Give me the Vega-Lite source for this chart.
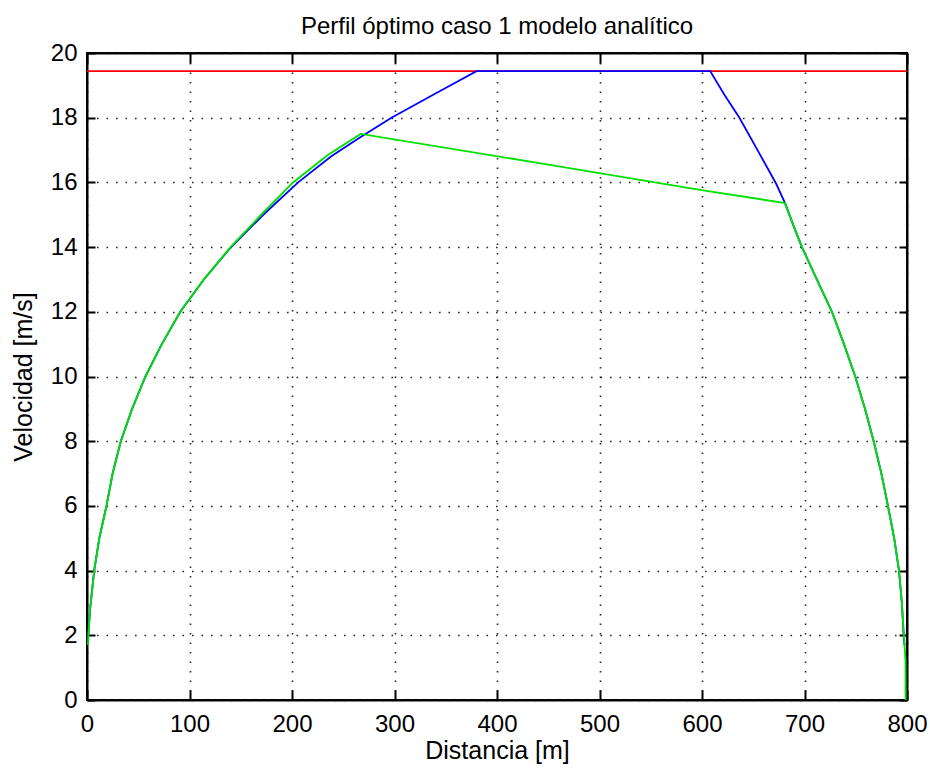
{
  "$schema": "https://vega.github.io/schema/vega-lite/v6.json",
  "autosize": {"type": "none"},
  "width": 820,
  "height": 647,
  "padding": {"left": 87, "top": 53, "right": 23, "bottom": 69},
  "background": "#ffffff",
  "config": {
    "view": {"stroke": "#000000", "strokeWidth": 2},
    "font": "Liberation Sans",
    "axis": {
      "labelFont": "Liberation Sans",
      "labelFontSize": 24,
      "labelColor": "#000000",
      "titleFont": "Liberation Sans",
      "titleFontSize": 25,
      "titleFontWeight": "normal",
      "titleColor": "#000000",
      "domainColor": "#000000",
      "domainWidth": 2,
      "tickColor": "#000000",
      "tickWidth": 2
    }
  },
  "title": {
    "text": "Perfil óptimo caso 1 modelo analítico",
    "font": "Liberation Sans",
    "fontSize": 24,
    "fontWeight": "normal",
    "color": "#000000",
    "baseline": "alphabetic",
    "offset": -17
  },
  "data": {
    "values": [
      {"s": "red", "i": 0, "x": 0, "v": 19.44},
      {"s": "red", "i": 1, "x": 800, "v": 19.44},

      {"s": "blue", "i": 0, "x": 1, "v": 1.7},
      {"s": "blue", "i": 1, "x": 1.3, "v": 2},
      {"s": "blue", "i": 2, "x": 3, "v": 2.8},
      {"s": "blue", "i": 3, "x": 7, "v": 4},
      {"s": "blue", "i": 4, "x": 12, "v": 5},
      {"s": "blue", "i": 5, "x": 19, "v": 6},
      {"s": "blue", "i": 6, "x": 25, "v": 7},
      {"s": "blue", "i": 7, "x": 33, "v": 8},
      {"s": "blue", "i": 8, "x": 44, "v": 9},
      {"s": "blue", "i": 9, "x": 57, "v": 10},
      {"s": "blue", "i": 10, "x": 73, "v": 11},
      {"s": "blue", "i": 11, "x": 91, "v": 12},
      {"s": "blue", "i": 12, "x": 114, "v": 13},
      {"s": "blue", "i": 13, "x": 140, "v": 13.98},
      {"s": "blue", "i": 14, "x": 172, "v": 15.0},
      {"s": "blue", "i": 15, "x": 206, "v": 16},
      {"s": "blue", "i": 16, "x": 238, "v": 16.8},
      {"s": "blue", "i": 17, "x": 267, "v": 17.4},
      {"s": "blue", "i": 18, "x": 297, "v": 18},
      {"s": "blue", "i": 19, "x": 340, "v": 18.75},
      {"s": "blue", "i": 20, "x": 380, "v": 19.44},
      {"s": "blue", "i": 21, "x": 608, "v": 19.44},
      {"s": "blue", "i": 22, "x": 622, "v": 18.7},
      {"s": "blue", "i": 23, "x": 636.5, "v": 18},
      {"s": "blue", "i": 24, "x": 655, "v": 16.95},
      {"s": "blue", "i": 25, "x": 672.5, "v": 15.95},
      {"s": "blue", "i": 26, "x": 681, "v": 15.36},
      {"s": "blue", "i": 27, "x": 690, "v": 14.6},
      {"s": "blue", "i": 28, "x": 697.5, "v": 14},
      {"s": "blue", "i": 29, "x": 712, "v": 13},
      {"s": "blue", "i": 30, "x": 726.8, "v": 12},
      {"s": "blue", "i": 31, "x": 738.5, "v": 11},
      {"s": "blue", "i": 32, "x": 749.5, "v": 10},
      {"s": "blue", "i": 33, "x": 759, "v": 9},
      {"s": "blue", "i": 34, "x": 767.5, "v": 8},
      {"s": "blue", "i": 35, "x": 775, "v": 7},
      {"s": "blue", "i": 36, "x": 781.4, "v": 6},
      {"s": "blue", "i": 37, "x": 787.5, "v": 5},
      {"s": "blue", "i": 38, "x": 792.2, "v": 4},
      {"s": "blue", "i": 39, "x": 795, "v": 3},
      {"s": "blue", "i": 40, "x": 796.7, "v": 2},
      {"s": "blue", "i": 41, "x": 797.5, "v": 1.7},

      {"s": "green", "i": 0, "x": 1, "v": 1.7},
      {"s": "green", "i": 1, "x": 1.3, "v": 2},
      {"s": "green", "i": 2, "x": 3, "v": 2.8},
      {"s": "green", "i": 3, "x": 7, "v": 4},
      {"s": "green", "i": 4, "x": 12, "v": 5},
      {"s": "green", "i": 5, "x": 19, "v": 6},
      {"s": "green", "i": 6, "x": 25, "v": 7},
      {"s": "green", "i": 7, "x": 33, "v": 8},
      {"s": "green", "i": 8, "x": 44, "v": 9},
      {"s": "green", "i": 9, "x": 57, "v": 10},
      {"s": "green", "i": 10, "x": 73, "v": 11},
      {"s": "green", "i": 11, "x": 91, "v": 12},
      {"s": "green", "i": 12, "x": 114, "v": 13},
      {"s": "green", "i": 13, "x": 140, "v": 14},
      {"s": "green", "i": 14, "x": 170, "v": 15},
      {"s": "green", "i": 15, "x": 201, "v": 16},
      {"s": "green", "i": 16, "x": 235, "v": 16.85},
      {"s": "green", "i": 17, "x": 267, "v": 17.5},
      {"s": "green", "i": 18, "x": 450, "v": 16.55},
      {"s": "green", "i": 19, "x": 598, "v": 15.77},
      {"s": "green", "i": 20, "x": 681, "v": 15.36},
      {"s": "green", "i": 21, "x": 690, "v": 14.6},
      {"s": "green", "i": 22, "x": 697.5, "v": 14},
      {"s": "green", "i": 23, "x": 712, "v": 13},
      {"s": "green", "i": 24, "x": 726.8, "v": 12},
      {"s": "green", "i": 25, "x": 738.5, "v": 11},
      {"s": "green", "i": 26, "x": 749.5, "v": 10},
      {"s": "green", "i": 27, "x": 759, "v": 9},
      {"s": "green", "i": 28, "x": 767.5, "v": 8},
      {"s": "green", "i": 29, "x": 775, "v": 7},
      {"s": "green", "i": 30, "x": 781.4, "v": 6},
      {"s": "green", "i": 31, "x": 787.5, "v": 5},
      {"s": "green", "i": 32, "x": 792.2, "v": 4},
      {"s": "green", "i": 33, "x": 795, "v": 3},
      {"s": "green", "i": 34, "x": 797, "v": 2},
      {"s": "green", "i": 35, "x": 798.6, "v": 1.2},
      {"s": "green", "i": 36, "x": 798.7, "v": 0}
    ]
  },
  "layer": [
    {
      "transform": [{"filter": "datum.s === 'red'"}],
      "mark": {"type": "line", "color": "#ff0000", "strokeWidth": 1.7, "clip": true},
      "encoding": {
        "x": {
          "field": "x", "type": "quantitative",
          "scale": {"domain": [0, 800], "nice": false, "zero": false},
          "axis": {
            "orient": "bottom", "title": "Distancia [m]", "values": [0, 100, 200, 300, 400, 500, 600, 700, 800],
            "grid": true, "gridColor": "#000000", "gridDash": [1.6, 7.9], "gridWidth": 1.6, "gridOpacity": 0.85,
            "tickSize": -10, "labelPadding": 22, "labelFlush": false, "titlePadding": 2,
            "domain": true
          }
        },
        "y": {
          "field": "v", "type": "quantitative",
          "scale": {"domain": [0, 20], "nice": false, "zero": false},
          "axis": {
            "orient": "left", "title": "Velocidad [m/s]", "values": [0, 2, 4, 6, 8, 10, 12, 14, 16, 18, 20],
            "grid": true, "gridColor": "#000000", "gridDash": [1.6, 7.9], "gridWidth": 1.6, "gridOpacity": 0.85,
            "tickSize": -8, "labelPadding": 18, "labelFlush": false, "titlePadding": 14,
            "domain": true
          }
        },
        "order": {"field": "i", "type": "quantitative"}
      }
    },
    {
      "transform": [{"filter": "datum.s === 'blue'"}],
      "mark": {"type": "line", "color": "#0000ff", "strokeWidth": 1.8, "clip": true},
      "encoding": {
        "x": {"field": "x", "type": "quantitative", "axis": null},
        "y": {"field": "v", "type": "quantitative", "axis": null},
        "order": {"field": "i", "type": "quantitative"}
      }
    },
    {
      "transform": [{"filter": "datum.s === 'green'"}],
      "mark": {"type": "line", "color": "#00e000", "strokeWidth": 1.9, "clip": true},
      "encoding": {
        "x": {
          "field": "x", "type": "quantitative",
          "axis": {"orient": "top", "title": null, "labels": false, "grid": false, "values": [0, 100, 200, 300, 400, 500, 600, 700, 800], "tickSize": -10, "domain": true}
        },
        "y": {
          "field": "v", "type": "quantitative",
          "axis": {"orient": "right", "title": null, "labels": false, "grid": false, "values": [0, 2, 4, 6, 8, 10, 12, 14, 16, 18, 20], "tickSize": -8, "domain": true}
        },
        "order": {"field": "i", "type": "quantitative"}
      }
    }
  ],
  "resolve": {"axis": {"x": "independent", "y": "independent"}}
}
